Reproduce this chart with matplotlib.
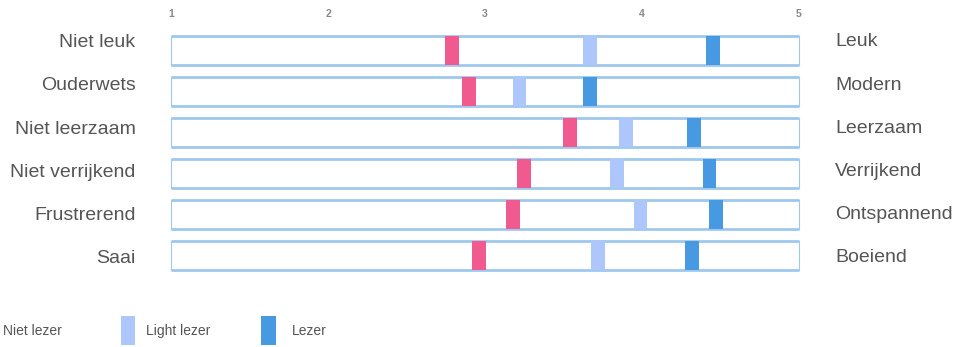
import matplotlib.pyplot as plt
from matplotlib.patches import Rectangle

plt.rcParams['font.family'] = ['Liberation Sans', 'DejaVu Sans']

left_labels = ["Niet leuk", "Ouderwets", "Niet leerzaam", "Niet verrijkend", "Frustrerend", "Saai"]
right_labels = ["Leuk", "Modern", "Leerzaam", "Verrijkend", "Ontspannend", "Boeiend"]
series_names = ["Niet lezer", "Light lezer", "Lezer"]
niet_lezer = [2.79, 2.90, 3.54, 3.25, 3.18, 2.96]
light_lezer = [3.67, 3.22, 3.90, 3.84, 3.99, 3.72]
lezer = [4.45, 3.67, 4.33, 4.43, 4.47, 4.32]
ticks = [1, 2, 3, 4, 5]

colors = ["#F05A8E", "#ADC6FB", "#4799E2"]
box_color = "#9FC8EE"
text_color = "#555555"

W, H = 955, 347
fig = plt.figure(figsize=(W / 100, H / 100), dpi=100)

# axes spanning the scale area: x 1..5, one row per item
ax_l, ax_r = 171 / W, 799 / W
top_px, bot_px = 36, 270
ax = fig.add_axes([ax_l, 1 - bot_px / H, ax_r - ax_l, (bot_px - top_px) / H])
row_h = 29 / 41
n = len(left_labels)
ax.set_xlim(ticks[0], ticks[-1])
ax.set_ylim(n - 1 + row_h / 2, -row_h / 2)
ax.axis('off')

bar_w = 0.088
for i in range(n):
    y0 = i - row_h / 2
    # row box outline
    ax.add_patch(Rectangle((ticks[0], y0), ticks[-1] - ticks[0], row_h, fill=False,
                           edgecolor=box_color, linewidth=0.8, zorder=1, clip_on=False))
    ax.plot([ticks[0], ticks[-1]], [y0, y0], color=box_color, lw=2.0, zorder=1,
            solid_capstyle='butt', clip_on=False)
    ax.plot([ticks[0], ticks[-1]], [y0 + row_h, y0 + row_h], color=box_color, lw=2.0,
            zorder=1, solid_capstyle='butt', clip_on=False)
    for vals, c in zip([niet_lezer, light_lezer, lezer], colors):
        ax.add_patch(Rectangle((vals[i] - bar_w / 2, y0), bar_w, row_h, facecolor=c,
                               edgecolor='none', zorder=3, clip_on=False))

# pole labels on both sides, on their own slightly wider spacing
for i in range(n):
    base = 1 - (47.3 + 43.2 * i) / H
    fig.text(135.5 / W, base, left_labels[i], ha='right', va='baseline',
             fontsize=14, color=text_color)
    fig.text(835 / W, base + 1 / H, right_labels[i], ha='left', va='baseline',
             fontsize=14, color=text_color)

# scale numbers above the rows
for t in ticks:
    ax.text(t, -row_h / 2 - 0.54, str(t), ha='center', va='center', fontsize=7.5,
            color='#888888', fontweight='bold')

# legend row
fig.text(3 / W, 1 - 331 / H, series_names[0], ha='left', va='center', fontsize=10,
         color=text_color)
fig.patches.append(Rectangle((121 / W, 1 - 345 / H), 14 / W, 29 / H, facecolor=colors[1],
                             edgecolor='none', transform=fig.transFigure))
fig.text(146 / W, 1 - 331 / H, series_names[1], ha='left', va='center', fontsize=10,
         color=text_color)
fig.patches.append(Rectangle((261 / W, 1 - 345 / H), 15 / W, 29 / H, facecolor=colors[2],
                             edgecolor='none', transform=fig.transFigure))
fig.text(292 / W, 1 - 331 / H, series_names[2], ha='left', va='center', fontsize=10,
         color=text_color)

fig.savefig("out.png", dpi=100, facecolor='white')
